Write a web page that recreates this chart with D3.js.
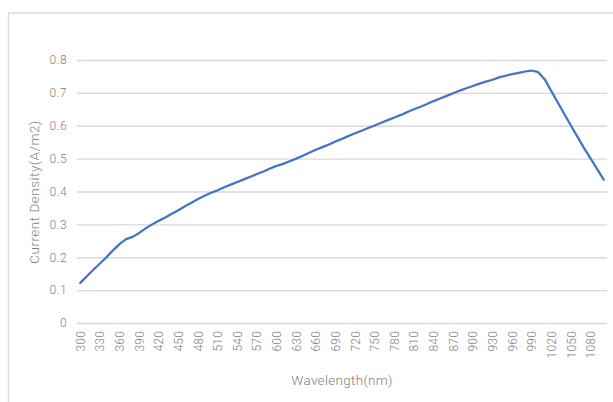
<!DOCTYPE html>
<html>
<head>
<meta charset="utf-8">
<script src="https://cdn.jsdelivr.net/npm/d3@7"></script>
<style>
  body { margin: 0; background: #fff; }
  svg { display: block; font-family: Roboto, "Open Sans", sans-serif; }
</style>
</head>
<body>
<div id="chart"></div>
<script>
// wavelength categories (nm), 10 nm steps
const wavelengths = d3.range(300, 1101, 10);

// current density (A/m2)
const density = [
  0.122, 0.142, 0.162, 0.181, 0.200, 0.221, 0.240, 0.255, 0.262, 0.274,
  0.288, 0.300, 0.311, 0.321, 0.332, 0.343, 0.355, 0.366, 0.377, 0.387,
  0.396, 0.404, 0.413, 0.421, 0.429, 0.437, 0.445, 0.453, 0.461, 0.470,
  0.478, 0.484, 0.492, 0.500, 0.509, 0.518, 0.527, 0.535, 0.543, 0.552,
  0.560, 0.569, 0.577, 0.585, 0.593, 0.601, 0.609, 0.617, 0.625, 0.633,
  0.642, 0.650, 0.658, 0.666, 0.675, 0.683, 0.691, 0.699, 0.707, 0.714,
  0.721, 0.728, 0.734, 0.740, 0.747, 0.752, 0.757, 0.761, 0.765, 0.768,
  0.763, 0.741, 0.705, 0.670, 0.635, 0.600, 0.566, 0.532, 0.500, 0.468,
  0.436
];

const yTicks = [0, 0.1, 0.2, 0.3, 0.4, 0.5, 0.6, 0.7, 0.8];
const xLabels = wavelengths.filter((d, i) => i % 3 === 0);

const width = 613, height = 402;
const plot = { left: 77, right: 607, top: 60, bottom: 323 };
const grey = "#7f7f7f";

const svg = d3.select("#chart").append("svg")
    .attr("width", width)
    .attr("height", height);

// chart frame
svg.append("rect")
    .attr("x", 8.5).attr("y", 13)
    .attr("width", width + 10).attr("height", height + 10)
    .attr("fill", "#fff")
    .attr("stroke", "#d9d9d9")
    .attr("stroke-width", 1.3);

const x = d3.scalePoint()
    .domain(wavelengths)
    .range([plot.left, plot.right])
    .padding(0.5);

const y = d3.scaleLinear()
    .domain([0, 0.8])
    .range([plot.bottom, plot.top]);

// gridlines + y labels
const yAxis = svg.append("g")
    .attr("transform", `translate(${plot.left},0)`)
    .call(d3.axisLeft(y)
        .tickValues(yTicks)
        .tickSize(-(plot.right - plot.left))
        .tickPadding(10)
        .tickFormat(d => d === 0 ? "0" : d3.format(".1f")(d)));
yAxis.select(".domain").remove();
yAxis.selectAll("line")
    .attr("stroke", "#d9d9d9")
    .attr("stroke-width", 1.3);
yAxis.selectAll("text")
    .attr("fill", grey)
    .attr("font-size", 12)
    .attr("font-weight", 300)
    .attr("letter-spacing", 0.4)
    .attr("font-family", "Roboto, sans-serif");

// x labels, rotated
const xAxis = svg.append("g")
    .attr("transform", `translate(0,${plot.bottom})`)
    .call(d3.axisBottom(x).tickValues(xLabels).tickSize(0).tickPadding(0));
xAxis.select(".domain").remove();
xAxis.selectAll("text")
    .attr("fill", grey)
    .attr("font-size", 12)
    .attr("font-weight", 300)
    .attr("letter-spacing", 0.2)
    .attr("font-family", "Roboto, sans-serif")
    .attr("text-anchor", "end")
    .attr("dy", null)
    .attr("transform", "translate(4,8) rotate(-90)");

// data line
const line = d3.line()
    .x((d, i) => x(wavelengths[i]))
    .y(d => y(d));

svg.append("path")
    .datum(density)
    .attr("fill", "none")
    .attr("stroke", "#4472c4")
    .attr("stroke-width", 2.25)
    .attr("stroke-linejoin", "round")
    .attr("stroke-linecap", "round")
    .attr("d", line);

// axis titles
svg.append("text")
    .attr("transform", `translate(39,192) rotate(-90)`)
    .attr("text-anchor", "middle")
    .attr("fill", grey)
    .attr("font-size", 13.5)
    .attr("font-weight", 300)
    .attr("letter-spacing", 0.5)
    .text("Current Density(A/m2)");

svg.append("text")
    .attr("x", 342)
    .attr("y", 385)
    .attr("text-anchor", "middle")
    .attr("fill", grey)
    .attr("font-size", 13.5)
    .attr("font-weight", 300)
    .attr("letter-spacing", 0.3)
    .text("Wavelength(nm)");
</script>
</body>
</html>
